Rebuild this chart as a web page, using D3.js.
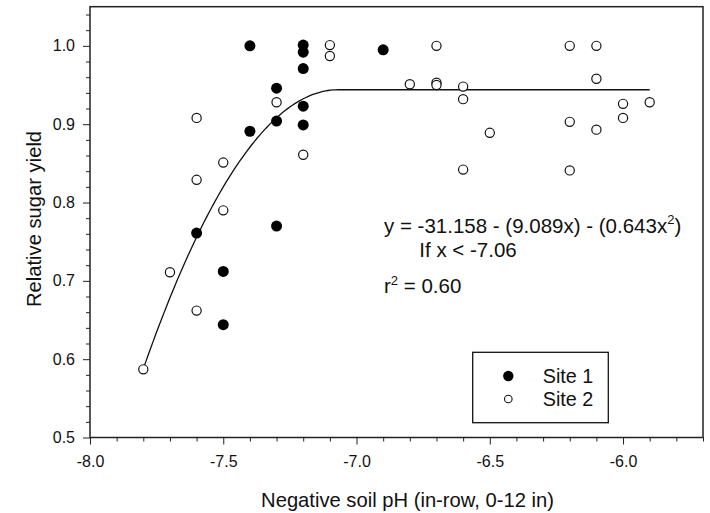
<!DOCTYPE html>
<html>
<head>
<meta charset="utf-8">
<script src="https://cdn.jsdelivr.net/npm/d3@7"></script>
<style>
  html, body { margin: 0; padding: 0; background: #fff; }
  svg { display: block; font-family: "Liberation Sans", Arial, sans-serif; }
</style>
</head>
<body>
<svg id="chart" width="710" height="513"></svg>
<script>
// ---- data ----
const site1X = [-7.4, -7.2, -7.2, -7.2, -6.9, -7.3, -7.2, -7.3, -7.2, -7.4, -7.3, -7.6, -7.5, -7.5];
const site1Y = [1.000, 1.001, 0.992, 0.971, 0.995, 0.946, 0.923, 0.904, 0.899, 0.891, 0.770, 0.761, 0.712, 0.644];
const site2X = [-7.1, -7.1, -7.3, -7.6, -7.2, -7.5, -7.6, -7.5, -6.8, -7.7, -7.6, -7.8,
                -6.7, -6.7, -6.7, -6.6, -6.6, -6.5, -6.6, -6.2, -6.1, -6.1, -6.2, -6.1, -6.0, -6.0, -5.9, -6.2];
const site2Y = [1.001, 0.987, 0.928, 0.908, 0.861, 0.851, 0.829, 0.790, 0.951, 0.711, 0.662, 0.587,
                1.000, 0.953, 0.950, 0.948, 0.932, 0.889, 0.842, 1.000, 1.000, 0.958, 0.903, 0.893, 0.926, 0.908, 0.928, 0.841];
// quadratic-plateau fit (as drawn)
const fitJoinX = -7.068;
const fitPlateau = 0.944;
const fitCurv = 0.665;
const fitRange = [-7.8, -5.9];
const xMajorTicks = [-8.0, -7.5, -7.0, -6.5, -6.0];
const yMajorTicks = [0.5, 0.6, 0.7, 0.8, 0.9, 1.0];
const xLabel = "Negative soil pH (in-row, 0-12 in)";
const yLabel = "Relative sugar yield";
const legendLabels = ["Site 1", "Site 2"];

// ---- layout ----
const L = 90, R = 703, T = 6.7, B = 437.5;
const svg = d3.select("#chart");
const x = d3.scaleLinear().domain([-8, -5.7]).range([L, R]);
const y = d3.scaleLinear().domain([0.5, 1.05]).range([B, T]);

// minor ticks
const xMinor = d3.range(0, 24).map(i => +(-8 + i * 0.1).toFixed(2)).filter(v => !xMajorTicks.some(m => Math.abs(m - v) < 1e-6));
const yMinor = d3.range(0, 28).map(i => +(0.5 + i * 0.02).toFixed(3)).filter(v => !yMajorTicks.some(m => Math.abs(m - v) < 1e-6));

const gx = svg.append("g").attr("transform", `translate(0,${B})`);
gx.call(d3.axisBottom(x).tickValues(xMinor).tickSize(4).tickFormat(""));
gx.append("g").call(d3.axisBottom(x).tickValues(xMajorTicks).tickSize(7).tickPadding(11).tickFormat(d => d.toFixed(1)));
gx.selectAll(".domain").remove();
gx.selectAll("line").attr("stroke", "#222").attr("stroke-width", 1);
gx.selectAll("text").attr("font-size", 16).attr("fill", "#111").attr("font-family", "Liberation Sans, Arial, sans-serif");

const gy = svg.append("g").attr("transform", `translate(${L},0)`);
gy.call(d3.axisLeft(y).tickValues(yMinor).tickSize(4).tickFormat(""));
gy.append("g").call(d3.axisLeft(y).tickValues(yMajorTicks).tickSize(7).tickPadding(8).tickFormat(d => d.toFixed(1)));
gy.selectAll(".domain").remove();
gy.selectAll("line").attr("stroke", "#222").attr("stroke-width", 1);
gy.selectAll("text").attr("font-size", 16).attr("fill", "#111").attr("font-family", "Liberation Sans, Arial, sans-serif");

// frame
svg.append("rect").attr("x", L).attr("y", T).attr("width", R - L).attr("height", B - T)
  .attr("fill", "none").attr("stroke", "#222").attr("stroke-width", 1.5);

// fit curve
const fitPts = d3.range(0, 201).map(i => {
  const xv = fitRange[0] + (fitRange[1] - fitRange[0]) * i / 200;
  const yv = xv < fitJoinX ? fitPlateau - fitCurv * (xv - fitJoinX) ** 2 : fitPlateau;
  return [xv, yv];
});
svg.append("path").datum(fitPts)
  .attr("d", d3.line().x(d => x(d[0])).y(d => y(d[1])))
  .attr("fill", "none").attr("stroke", "#111").attr("stroke-width", 1.3);

// points
svg.append("g").selectAll("circle").data(site2X.map((v, i) => [v, site2Y[i]])).join("circle")
  .attr("cx", d => x(d[0])).attr("cy", d => y(d[1])).attr("r", 4.6)
  .attr("fill", "#fff").attr("stroke", "#111").attr("stroke-width", 1.2);
svg.append("g").selectAll("circle").data(site1X.map((v, i) => [v, site1Y[i]])).join("circle")
  .attr("cx", d => x(d[0])).attr("cy", d => y(d[1])).attr("r", 5.5)
  .attr("fill", "#000");

// equation text
const eq = svg.append("text").attr("x", 384).attr("y", 232.7).attr("font-size", 20.5).attr("fill", "#111");
eq.append("tspan").text("y = -31.158 - (9.089x) - (0.643x");
eq.append("tspan").attr("font-size", 13).attr("dy", -8.5).text("2");
eq.append("tspan").attr("dy", 8.5).text(")");
svg.append("text").attr("x", 419.3).attr("y", 256.7).attr("font-size", 20.5).attr("fill", "#111").text("If x < -7.06");
const r2 = svg.append("text").attr("x", 384).attr("y", 293.3).attr("font-size", 20.5).attr("fill", "#111");
r2.append("tspan").text("r");
r2.append("tspan").attr("font-size", 13).attr("dy", -8.5).text("2");
r2.append("tspan").attr("dy", 8.5).text(" = 0.60");

// legend
svg.append("rect").attr("x", 472.7).attr("y", 352.3).attr("width", 135.6).attr("height", 70.4)
  .attr("fill", "#fff").attr("stroke", "#111").attr("stroke-width", 1.3);
svg.append("circle").attr("cx", 508.3).attr("cy", 376).attr("r", 5.2).attr("fill", "#000");
svg.append("circle").attr("cx", 508.3).attr("cy", 399).attr("r", 3.8).attr("fill", "#fff").attr("stroke", "#111").attr("stroke-width", 1.1);
svg.append("text").attr("x", 542.7).attr("y", 383.3).attr("font-size", 19.8).attr("fill", "#111").text(legendLabels[0]);
svg.append("text").attr("x", 542.7).attr("y", 406).attr("font-size", 19.8).attr("fill", "#111").text(legendLabels[1]);

// axis titles
svg.append("text").attr("x", 407.5).attr("y", 506.7).attr("text-anchor", "middle")
  .attr("font-size", 20.2).attr("fill", "#111").text(xLabel);
svg.append("text").attr("transform", "translate(40.5,219) rotate(-90)").attr("text-anchor", "middle")
  .attr("font-size", 20.2).attr("fill", "#111").text(yLabel);
</script>
</body>
</html>
